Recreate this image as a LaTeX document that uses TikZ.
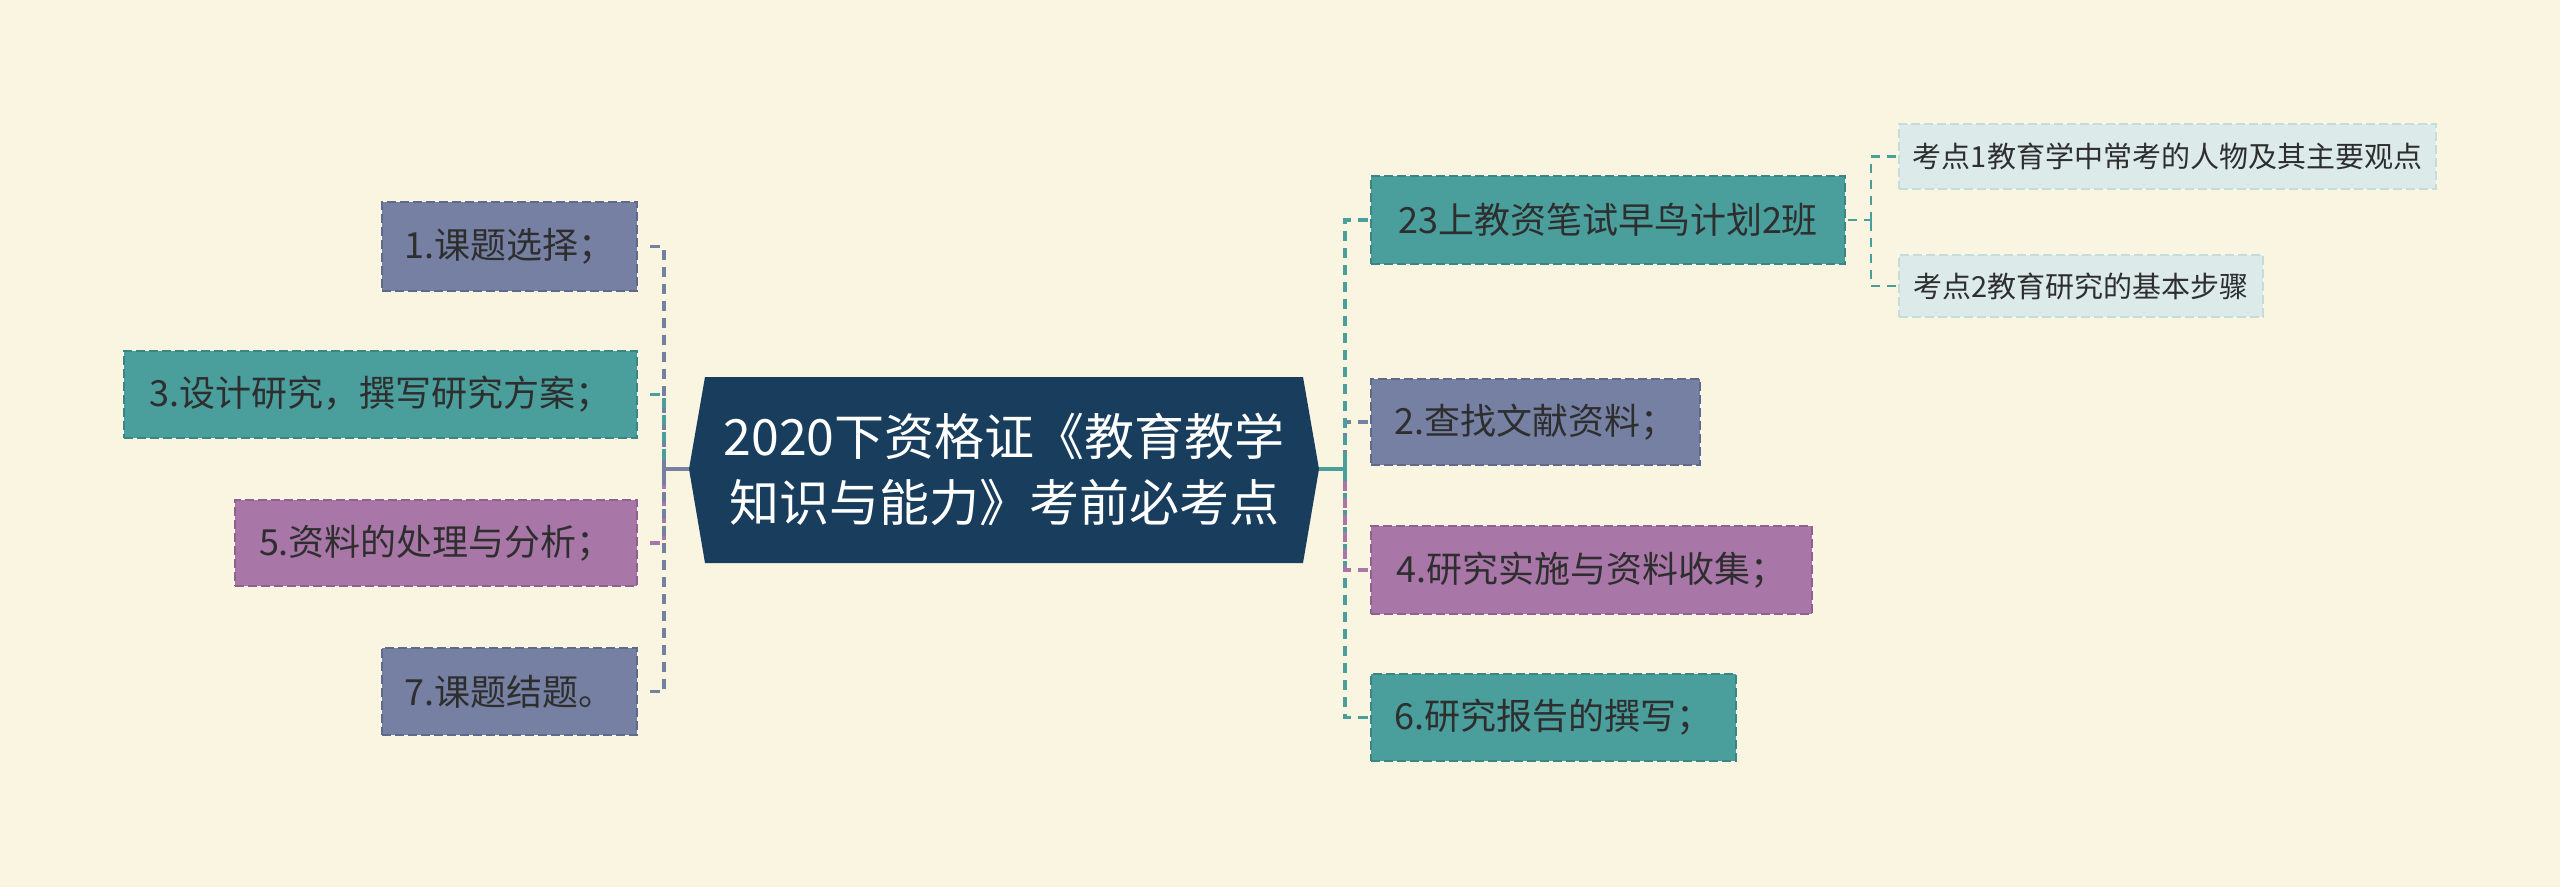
\documentclass[tikz,border=0pt]{standalone}
\usepackage{fontspec}
\newfontfamily\cjk{Noto Sans CJK SC}
\definecolor{bg}{HTML}{FAF5E1}
\definecolor{navy}{HTML}{183D5D}
\definecolor{slate}{HTML}{7680A3}
\definecolor{slateD}{HTML}{5F698C}
\definecolor{teal}{HTML}{4A9E9C}
\definecolor{tealD}{HTML}{3A8684}
\definecolor{purp}{HTML}{A877A8}
\definecolor{purpD}{HTML}{916090}
\definecolor{pale}{HTML}{DCEBEA}
\definecolor{paleD}{HTML}{C6DCDB}
\definecolor{txt}{HTML}{2E2E2E}
\begin{document}
\begin{tikzpicture}[x=1pt,y=-1pt,
  box/.style={rectangle, dash pattern=on 9pt off 4pt, line width=2pt, text=txt,
    preaction={draw=bg!60!white, solid, line width=2pt},
    font=\cjk\fontsize{36}{42}\selectfont, inner sep=0pt, anchor=center},
  slatebox/.style={box, fill=slate, draw=slateD},
  tealbox/.style={box, fill=teal, draw=tealD},
  purpbox/.style={box, fill=purp, draw=purpD},
  subbox/.style={box, fill=pale, draw=paleD, font=\cjk\fontsize{29}{34}\selectfont},
  conn/.style={line width=3.5pt, dash pattern=on 10pt off 7pt},
  subconn/.style={line width=2.5pt, dash pattern=on 9pt off 7pt},
  root/.style={line width=3.5pt}
]
\fill[bg] (0,0) rectangle (2560,887);
\useasboundingbox (0,0) rectangle (2560,887);

% central hexagon
\coordinate (cL) at (689,469);
\coordinate (cR) at (1319,469);
\fill[navy] (cL) -- (705,377) -- (1303,377) -- (cR) -- (1303,563) -- (705,563) -- cycle;
\node[text=white, font=\cjk\fontsize{50}{66}\selectfont, align=center] (center) at (1004,469)
  {2020下资格证《教育教学\\知识与能力》考前必考点};

% left children
\node[slatebox, minimum width=255pt, minimum height=89pt] (n1) at (509.5,246.5) {1.课题选择；};
\node[tealbox, minimum width=513pt, minimum height=87pt] (n3) at (380.5,394.5) {3.设计研究，撰写研究方案；};
\node[purpbox, minimum width=402pt, minimum height=86pt] (n5) at (436,543) {5.资料的处理与分析；};
\node[slatebox, minimum width=255pt, minimum height=87pt] (n7) at (509.5,691.5) {7.课题结题。};

% right children
\node[tealbox, minimum width=474pt, minimum height=88pt] (r23) at (1608,220) {23上教资笔试早鸟计划2班};
\node[slatebox, minimum width=329pt, minimum height=86pt] (r2) at (1535.5,422) {2.查找文献资料；};
\node[purpbox, minimum width=441pt, minimum height=88pt] (r4) at (1591.5,570) {4.研究实施与资料收集；};
\node[tealbox, minimum width=365pt, minimum height=87pt] (r6) at (1553.5,717.5) {6.研究报告的撰写；};

% sub nodes
\node[subbox, minimum width=537pt, minimum height=65pt] (k1) at (2167.5,156.5) {考点1教育学中常考的人物及其主要观点};
\node[subbox, minimum width=364pt, minimum height=62pt] (k2) at (2081,286) {考点2教育研究的基本步骤};

% junctions
\coordinate (jl) at (664,469);
\coordinate (jr) at (1345,469);
\coordinate (js) at (1871,220);

% left connectors (drawn from the child side so the stub starts with a dash)
\draw[conn, slate] ([xshift=12pt]n1.east) -| (jl);
\draw[conn, teal] ([xshift=12pt]n3.east) -| (jl);
\draw[conn, purp] ([xshift=12pt]n5.east) -| (jl);
\draw[conn, slate] ([xshift=12pt]n7.east) -| (jl);
\draw[root, slate] (cL) -- (jl);
\draw[root, slate] ([yshift=10pt]jl) -- ([yshift=-10pt]jl);

% right connectors
\draw[conn, teal] ([xshift=-2pt]r6.west) -| (jr);
\draw[conn, purp] ([xshift=-2pt]r4.west) -| (jr);
\draw[conn, slate] ([xshift=-2pt]r2.west) -| (jr);
\draw[conn, teal] ([xshift=-2pt]r23.west) -| (jr);
\draw[root, teal] (cR) -- (jr);
\draw[root, teal] ([yshift=10pt]jr) -- ([yshift=-10pt]jr);

% sub connectors
\draw[subconn, teal] ([xshift=2pt]r23.east) -- (js);
\draw[line width=2.5pt, teal] ([yshift=7pt]js) -- ([yshift=-7pt]js);
\draw[subconn, teal] ([xshift=-2pt]k1.west) -| (js);
\draw[subconn, teal] ([xshift=-2pt]k2.west) -| (js);
\end{tikzpicture}
\end{document}
